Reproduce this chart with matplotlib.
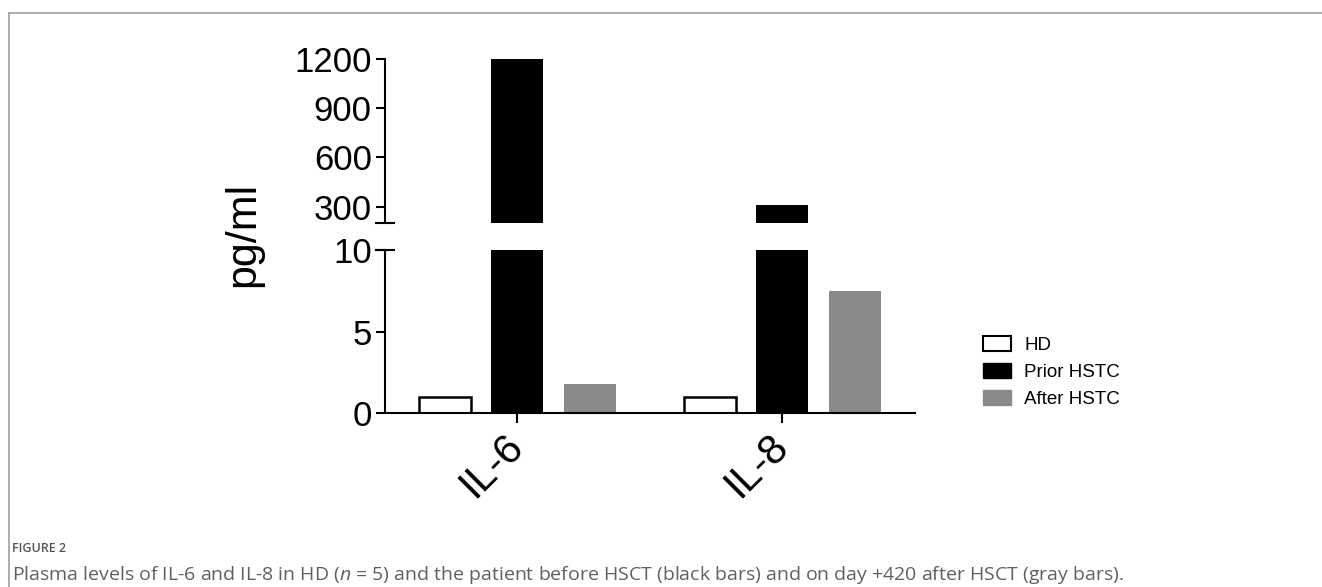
import matplotlib.pyplot as plt
from matplotlib.patches import Patch
from matplotlib.lines import Line2D
import numpy as np

plt.rcParams['font.family'] = ['Liberation Sans', 'DejaVu Sans']
plt.rcParams['mathtext.fontset'] = 'custom'
plt.rcParams['mathtext.it'] = 'Open Sans:italic'
plt.rcParams['mathtext.rm'] = 'Open Sans'

# data
categories = ['IL-6', 'IL-8']
hd = [1.0, 1.0]
prior = [1200, 310]
after = [1.8, 7.5]
series_names = ['HD', 'Prior HSTC', 'After HSTC']

x = np.arange(len(categories))
w = 0.196
off = 0.272

fig = plt.figure(figsize=(13.22, 5.87), dpi=100)
ax_top = fig.add_axes([0.2912, 0.6201, 0.4009, 0.2794])
ax_bot = fig.add_axes([0.2912, 0.2964, 0.4009, 0.2777])

for ax in (ax_top, ax_bot):
    ax.bar(x - off, hd, w, color='white', edgecolor='black', linewidth=1.8)
    ax.bar(x, prior, w, color='black', edgecolor='black', linewidth=0)
    ax.bar(x + off, after, w, color='#8a8a8a', linewidth=0)
    ax.set_xlim(-0.5, 1.5)
    for s in ('top', 'right'):
        ax.spines[s].set_visible(False)
    ax.spines['left'].set_linewidth(1.5)
    ax.spines['bottom'].set_linewidth(1.5)
    ax.tick_params(axis='y', length=6.5, width=1.5, labelsize=25, pad=3)
    ax.patch.set_visible(False)

ax_top.set_ylim(200, 1200)
ax_top.set_yticks([300, 600, 900, 1200])
ax_top.spines['bottom'].set_visible(False)
ax_top.set_xticks([])

ax_bot.set_ylim(0, 10)
ax_bot.set_yticks([0, 5, 10])
ax_bot.set_xticks(x)
ax_bot.set_xticklabels(categories, rotation=45, ha='right', va='center',
                       rotation_mode='anchor', fontsize=30)
ax_bot.tick_params(axis='x', length=7, width=1.5, pad=13)

# break caps on the y axis
cap = 0.017
ax_top.plot([-cap, cap], [200, 200], color='black', lw=1.5, transform=ax_top.get_yaxis_transform(), clip_on=False)
ax_bot.plot([-cap, cap], [10, 10], color='black', lw=1.5, transform=ax_bot.get_yaxis_transform(), clip_on=False)

fig.text(0.184, 0.6, 'pg/ml', rotation=90, fontsize=31, ha='center', va='center')

handles = [Patch(facecolor='white', edgecolor='black', linewidth=1.5),
           Patch(facecolor='black', edgecolor='black'),
           Patch(facecolor='#8a8a8a', edgecolor='#8a8a8a')]
fig.legend(handles, series_names, loc='center left', bbox_to_anchor=(0.7436, 0.366),
           frameon=False, fontsize=13.5, handlelength=1.5, handleheight=0.8,
           labelspacing=0.5, handletextpad=0.7, borderpad=0, borderaxespad=0)

# outer frame
fig.add_artist(Line2D([9 / 1322, 1], [1 - 13 / 587] * 2, color='#a0a0a0', lw=1.2))
fig.add_artist(Line2D([9 / 1322] * 2, [0, 1 - 13 / 587], color='#a0a0a0', lw=1.2))

fig.text(12 / 1322, 1 - 549 / 587, 'FIGURE 2', fontsize=9, color='#555555',
         family='Open Sans', va='center', fontweight='semibold', fontstretch='condensed')
fig.text(12 / 1322, 1 - 575 / 587,
         r'Plasma levels of IL-6 and IL-8 in HD ($n$ = 5) and the patient before HSCT (black bars) '
         r'and on day +420 after HSCT (gray bars).',
         fontsize=14, color='#606060', family='Open Sans', va='center')

fig.savefig('out.png', dpi=100)
